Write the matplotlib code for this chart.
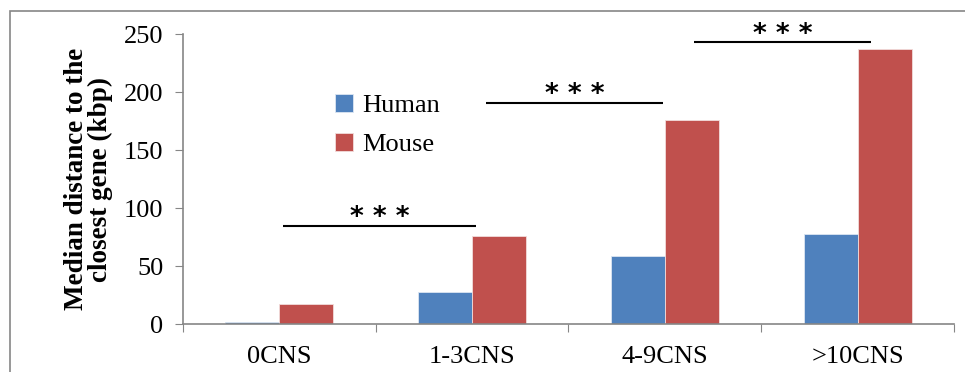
import numpy as np
import matplotlib.pyplot as plt
from matplotlib.patches import Rectangle

# data
categories = ["0CNS", "1-3CNS", "4-9CNS", ">10CNS"]
human = [1.7, 27.8, 58.6, 77.9]
mouse = [17.5, 75.5, 176.0, 236.8]
series_names = ["Human", "Mouse"]
# significance brackets: (x start, x end, y level)
sig_x0 = [0.02, 1.07, 2.15]
sig_x1 = [1.02, 1.99, 3.07]
sig_y = [84.5, 190.5, 243.0]

plt.rcParams['font.family'] = ['Liberation Serif', 'DejaVu Serif']

fig = plt.figure(figsize=(9.65, 3.72), dpi=100)
ax = fig.add_axes([0.1896, 0.129, 0.799, 0.7796])

x = np.arange(len(categories))
w = 0.28
ax.bar(x - w / 2, human, w, color="#4F81BD", edgecolor="#DCE6F2", linewidth=0.6, label=series_names[0], zorder=2)
ax.bar(x + w / 2, mouse, w, color="#C0504D", edgecolor="#F2DCDB", linewidth=0.6, label=series_names[1], zorder=2)

for a, b, y in zip(sig_x0, sig_x1, sig_y):
    ax.plot([a, b], [y, y], color="black", lw=1.5, solid_capstyle="butt", zorder=3)
    ax.text((a + b) / 2, y + 0.5, "* * *", ha="center", va="baseline", fontsize=19,
            family="DejaVu Sans", fontweight="bold", zorder=3)

ax.set_xlim(-0.5, 3.5)
ax.set_ylim(0, 250)
ax.set_yticks([0, 50, 100, 150, 200, 250])
ax.set_xticks(np.arange(-0.5, 4, 1))
ax.set_xticklabels([])
ax.set_xticks(x, minor=True)
ax.set_xticklabels(categories, minor=True)
ax.tick_params(axis="x", which="minor", length=0, pad=16, labelsize=19)
ax.tick_params(axis="x", which="major", length=6, color="#868686", direction="out")
ax.tick_params(axis="y", length=6, color="#868686", labelsize=19, pad=8)

for s in ["top", "right"]:
    ax.spines[s].set_visible(False)
for s in ["left", "bottom"]:
    ax.spines[s].set_color("#868686")
    ax.spines[s].set_linewidth(1.2)

ax.set_ylabel("Median distance to the\nclosest gene (kbp)", fontsize=19.5, fontweight="bold", labelpad=8, linespacing=0.95)

ax.legend(loc="upper left", bbox_to_anchor=(0.167, 0.875), frameon=False, fontsize=19,
          handlelength=0.65, handleheight=0.65, handletextpad=0.35, labelspacing=0.6)

# outer chart border
fig.patches.append(Rectangle((10 / 965, -0.1), 1.1, 1 - 11 / 372 + 0.1, transform=fig.transFigure,
                             fill=False, edgecolor="#868686", lw=1.2))

fig.savefig("out.png", dpi=100)
